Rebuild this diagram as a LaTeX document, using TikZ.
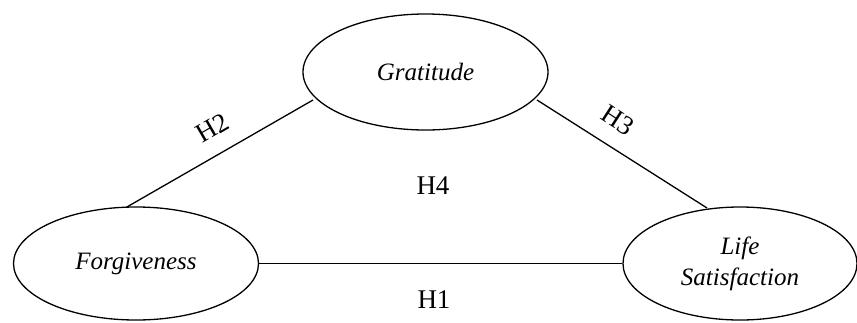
\documentclass[tikz,border=0pt]{standalone}
\usepackage{fontspec}
\setmainfont{Liberation Serif}
\usetikzlibrary{shapes.geometric}
\begin{document}
\begin{tikzpicture}[x=1pt,y=-1pt,
  var/.style={draw, ellipse, line width=1.3pt, inner sep=0pt, align=center,
    font=\fontsize{25}{31}\selectfont\itshape},
  conn/.style={line width=1.3pt},
  hlab/.style={font=\fontsize{27}{30}\selectfont, inner sep=0pt}]
\useasboundingbox (0,0) rectangle (857,322);
\node[var, minimum width=245pt, minimum height=116pt] (grat) at (425.5,72) {Gratitude};
\node[var, minimum width=245pt, minimum height=113pt] (forg) at (136,263.5) {Forgiveness};
\node[var, minimum width=234pt, minimum height=113pt] (life) at (740,263.5) {Life\\Satisfaction};
\coordinate (f2) at (126,207.5);
\coordinate (g2) at (313,100);
\coordinate (g3) at (537,100);
\coordinate (l3) at (707,208);
\draw[conn] (f2) -- (g2);
\draw[conn] (g3) -- (l3);
\draw[conn] (forg.east) -- (life.west);
\node[hlab, rotate=30] (h2) at (212,128) {H2};
\node[hlab, rotate=-33] (h3) at (618,120) {H3};
\node[hlab] (h4) at (433,186) {H4};
\node[hlab] (h1) at (434,300) {H1};
\end{tikzpicture}
\end{document}
